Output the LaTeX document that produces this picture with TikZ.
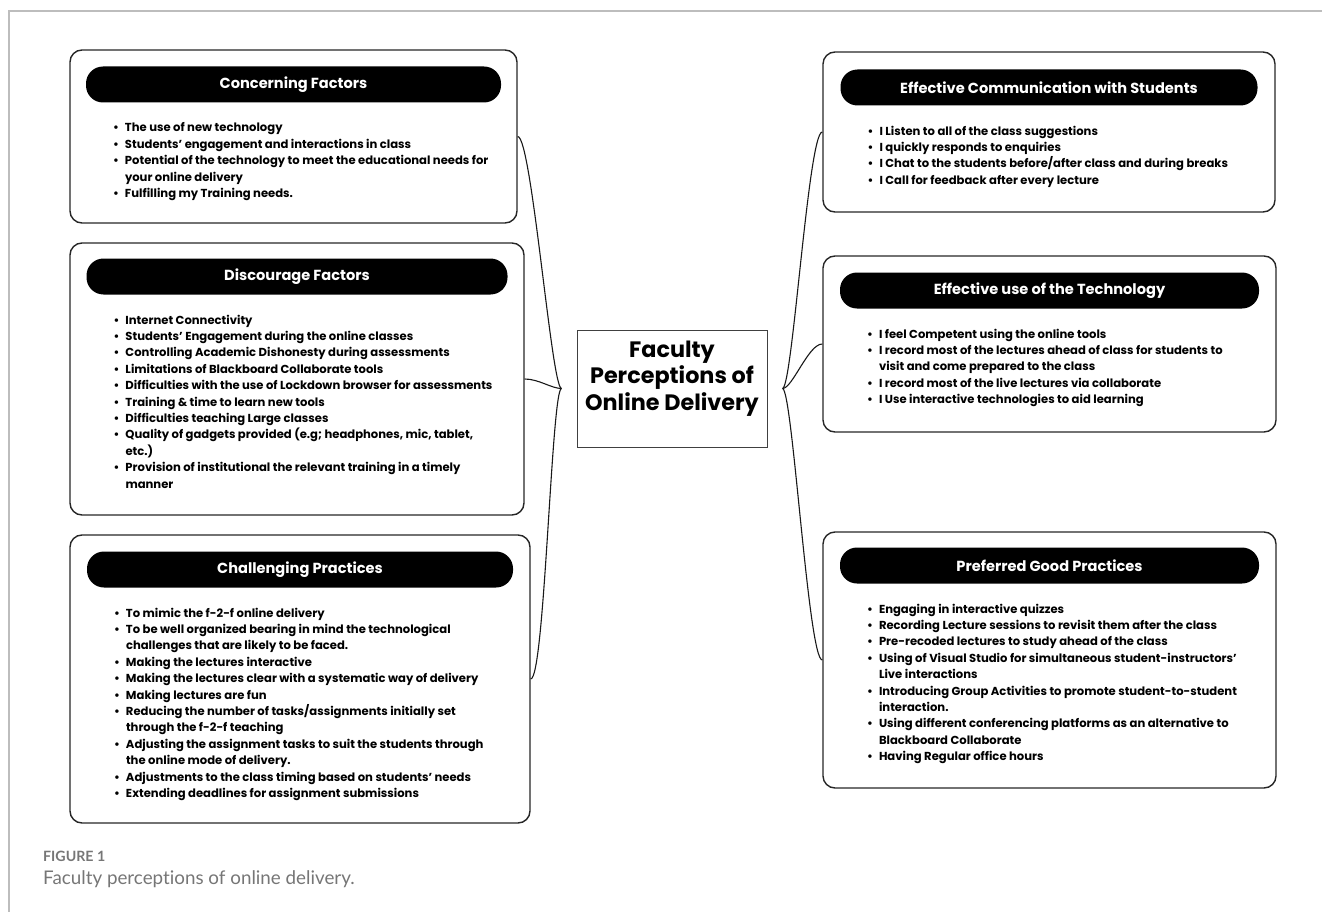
\documentclass[tikz,border=0pt]{standalone}
\usepackage{fontspec}
\setmainfont{Poppins}
\newfontfamily\capfont[Ligatures=NoCommon]{Lato}
\usetikzlibrary{positioning}
\definecolor{FrameGray}{HTML}{BDBDBD}
\definecolor{CapGray}{HTML}{767676}
\newcommand{\itm}{\makebox[12pt][l]{\textbullet}}
\newcommand{\cnt}{\hspace*{12pt}}

\begin{document}
\begin{tikzpicture}[
  x=1pt, y=-1pt,
  card/.style={draw=black!85, line width=1.4pt, rounded corners=12pt},
  pill/.style={fill=black, rounded corners=17pt, minimum height=36pt, inner sep=0pt, text=white, font=\fontsize{14.6}{16}\selectfont\bfseries},
  items/.style={align=left, inner sep=0pt, font=\fontsize{11.6}{16.4}\selectfont\bfseries},
  hub/.style={draw=black!75, line width=1pt, minimum width=190pt, minimum height=117pt, inner sep=0pt, font=\fontsize{22.3}{26.5}\selectfont\bfseries},
  link/.style={line width=1.1pt, black!90}
]
\useasboundingbox (0,0) rectangle (1322,912);
\draw[FrameGray, line width=1.5pt] (9,912) -- (9,11) -- (1322,11);

% centre
\node[hub] (hub) at (672,388.5) {\raisebox{10pt}[\height][\depth]{\begin{tabular}{@{}c@{}}Faculty\\Perceptions of\\Online Delivery\end{tabular}}};
\coordinate[left=15pt of hub.west] (lfork);
\coordinate[right=15pt of hub.east] (rfork);

% left side
\node[card, minimum width=447pt, minimum height=173pt] (lbox1) at (293.5,136.5) {};
\node[pill, minimum width=415pt, below=17pt of lbox1.north] (lhead1) {Concerning Factors};
\node[items, below right=20pt and 27pt of lhead1.south west] (litems1) {%
\itm The use of new technology\\
\itm Students’ engagement and interactions in class\\
\itm Potential of the technology to meet the educational needs for\\
\cnt your online delivery\\
\itm Fulfilling my Training needs.};

\node[card, minimum width=454pt, minimum height=272pt] (lbox2) at (297,379) {};
\node[pill, minimum width=421pt, below=16pt of lbox2.north] (lhead2) {Discourage Factors};
\node[items, below right=20pt and 27pt of lhead2.south west] (litems2) {%
\itm Internet Connectivity\\
\itm Students’ Engagement during the online classes\\
\itm Controlling Academic Dishonesty during assessments\\
\itm Limitations of Blackboard Collaborate tools\\
\itm Difficulties with the use of Lockdown browser for assessments\\
\itm Training \& time to learn new tools\\
\itm Difficulties teaching Large classes\\
\itm Quality of gadgets provided (e.g; headphones, mic, tablet,\\
\cnt etc.)\\
\itm Provision of institutional the relevant training in a timely\\
\cnt manner};

\node[card, minimum width=460pt, minimum height=288pt] (lbox3) at (300,679) {};
\node[pill, minimum width=426pt, below=17pt of lbox3.north] (lhead3) {Challenging Practices};
\node[items, below right=20pt and 27pt of lhead3.south west] (litems3) {%
\itm To mimic the f-2-f online delivery\\
\itm To be well organized bearing in mind the technological\\
\cnt challenges that are likely to be faced.\\
\itm Making the lectures interactive\\
\itm Making the lectures clear with a systematic way of delivery\\
\itm Making lectures are fun\\
\itm Reducing the number of tasks/assignments initially set\\
\cnt through the f-2-f teaching\\
\itm Adjusting the assignment tasks to suit the students through\\
\cnt the online mode of delivery.\\
\itm Adjustments to the class timing based on students’ needs\\
\itm Extending deadlines for assignment submissions};

% right side
\node[card, minimum width=452pt, minimum height=160pt] (rbox1) at (1049,132) {};
\node[pill, minimum width=417pt, below=18pt of rbox1.north] (rhead1) {Effective Communication with Students};
\node[items, below right=20pt and 27pt of rhead1.south west] (ritems1) {%
\itm I Listen to all of the class suggestions\\
\itm I quickly responds to enquiries\\
\itm I Chat to the students before/after class and during breaks\\
\itm I Call for feedback after every lecture};

\node[card, minimum width=453pt, minimum height=176pt] (rbox2) at (1049.5,344) {};
\node[pill, minimum width=419pt, below=17pt of rbox2.north] (rhead2) {Effective use of the Technology};
\node[items, below right=20pt and 27pt of rhead2.south west] (ritems2) {%
\itm I feel Competent using the online tools\\
\itm I record most of the lectures ahead of class for students to\\
\cnt visit and come prepared to the class\\
\itm I record most of the live lectures via collaborate\\
\itm I Use interactive technologies to aid learning};

\node[card, minimum width=453pt, minimum height=256pt] (rbox3) at (1049.5,660) {};
\node[pill, minimum width=419pt, below=16pt of rbox3.north] (rhead3) {Preferred Good Practices};
\node[items, below right=20pt and 27pt of rhead3.south west] (ritems3) {%
\itm Engaging in interactive quizzes\\
\itm Recording Lecture sessions to revisit them after the class\\
\itm Pre-recoded lectures to study ahead of the class\\
\itm Using of Visual Studio for simultaneous student-instructors’\\
\cnt Live interactions\\
\itm Introducing Group Activities to promote student-to-student\\
\cnt interaction.\\
\itm Using different conferencing platforms as an alternative to\\
\cnt Blackboard Collaborate\\
\itm Having Regular office hours};

% branches
\draw[link] (lbox1.east) .. controls +(14,0) and +(-10,0) .. (lfork);
\draw[link] (lbox2.east) .. controls +(14,0) and +(-10,0) .. (lfork);
\draw[link] (lbox3.east) .. controls +(14,0) and +(-10,0) .. (lfork);
\draw[link] (rbox1.west) .. controls +(-14,0) and +(10,0) .. (rfork);
\draw[link] (rbox2.west) .. controls +(-14,0) and +(10,0) .. (rfork);
\draw[link] (rbox3.west) .. controls +(-14,0) and +(10,0) .. (rfork);

% caption
\node[anchor=west, inner sep=0pt, text=CapGray, font=\capfont\bfseries\fontsize{14.2}{16}\selectfont] (fignum) at (43,856) {FIGURE 1};
\node[anchor=west, inner sep=0pt, text=CapGray, font=\capfont\fontsize{18.8}{22}\selectfont] (figcap) at (43,879) {Faculty perceptions of online delivery.};
\end{tikzpicture}
\end{document}
